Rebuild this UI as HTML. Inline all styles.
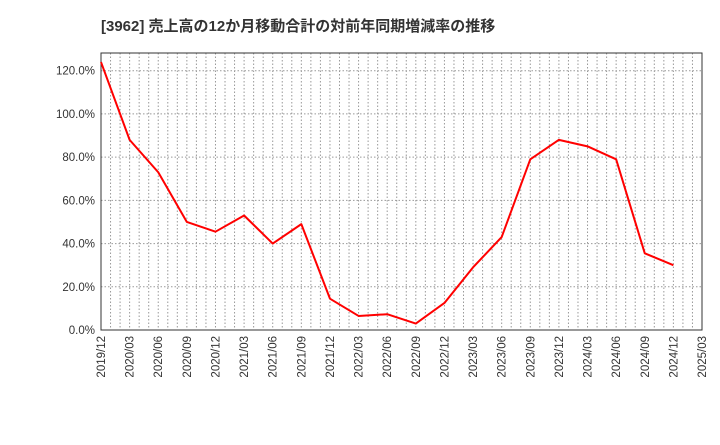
<!DOCTYPE html>
<html><head><meta charset="utf-8"><style>
body{margin:0;background:#fff;font-family:"Liberation Sans","Noto Sans CJK JP",sans-serif;}
svg text{font-family:"Liberation Sans","Noto Sans CJK JP",sans-serif;}
</style></head><body>
<svg id="c" width="720" height="440">
<text x="101" y="31" font-size="15" font-weight="bold" fill="#333">[3962]  売上高の12か月移動合計の対前年同期増減率の推移</text>
</svg>
<script>
const categories=["2019/12","2020/03","2020/06","2020/09","2020/12","2021/03","2021/06","2021/09","2021/12","2022/03","2022/06","2022/09","2022/12","2023/03","2023/06","2023/09","2023/12","2024/03","2024/06","2024/09","2024/12"];
const values=[124,88,73,50,45.5,53,40,49,14.5,6.5,7.3,3,12.5,29,43,79,88,85,79,35.5,30];
const xTicks=["2019/12","2020/03","2020/06","2020/09","2020/12","2021/03","2021/06","2021/09","2021/12","2022/03","2022/06","2022/09","2022/12","2023/03","2023/06","2023/09","2023/12","2024/03","2024/06","2024/09","2024/12","2025/03"];
const yTicks=[0,20,40,60,80,100,120];
const X0=101,X1=702,Y0=330,Y1=53,YMAX=128.2,NQ=21;
const xq=i=>X0+(X1-X0)*i/NQ;
const y=v=>Y0-(Y0-Y1)*v/YMAX;
const svg=document.getElementById('c');
const NS='http://www.w3.org/2000/svg';
function mk(t,a){const e=document.createElementNS(NS,t);for(const k in a)e.setAttribute(k,a[k]);svg.appendChild(e);return e;}
for(let m=1;m<NQ*3;m++){const xx=X0+(X1-X0)*m/(NQ*3);
const g=mk('line',{x1:xx,x2:xx,y1:Y1,y2:Y0,stroke:'#999','stroke-dasharray':'1.5,2','stroke-width':1});

}
yTicks.forEach(v=>{
if(v>0){const g=mk('line',{x1:X0,x2:X1,y1:y(v),y2:y(v),stroke:'#999','stroke-dasharray':'1.5,2'});

}
const t=mk('text',{x:X0-6,y:y(v)+4,'text-anchor':'end','font-size':11.5,fill:'#333'});
t.textContent=v.toFixed(1)+'%';


});
xTicks.forEach((s,i)=>{const xx=xq(i);
const t=mk('text',{x:0,y:0,'text-anchor':'end','font-size':11.5,fill:'#333',transform:`translate(${xx+4},${Y0+6}) rotate(-90)`});
t.textContent=s;

});
const fr=mk('rect',{x:X0,y:Y1,width:X1-X0,height:Y0-Y1,fill:'none',stroke:'#333','stroke-width':1});


const pts=values.map((v,i)=>xq(i)+','+y(v)).join(' ');
const pl=mk('polyline',{points:pts,fill:'none',stroke:'#f00','stroke-width':2,'stroke-linejoin':'round'});


</script>
</body></html>
